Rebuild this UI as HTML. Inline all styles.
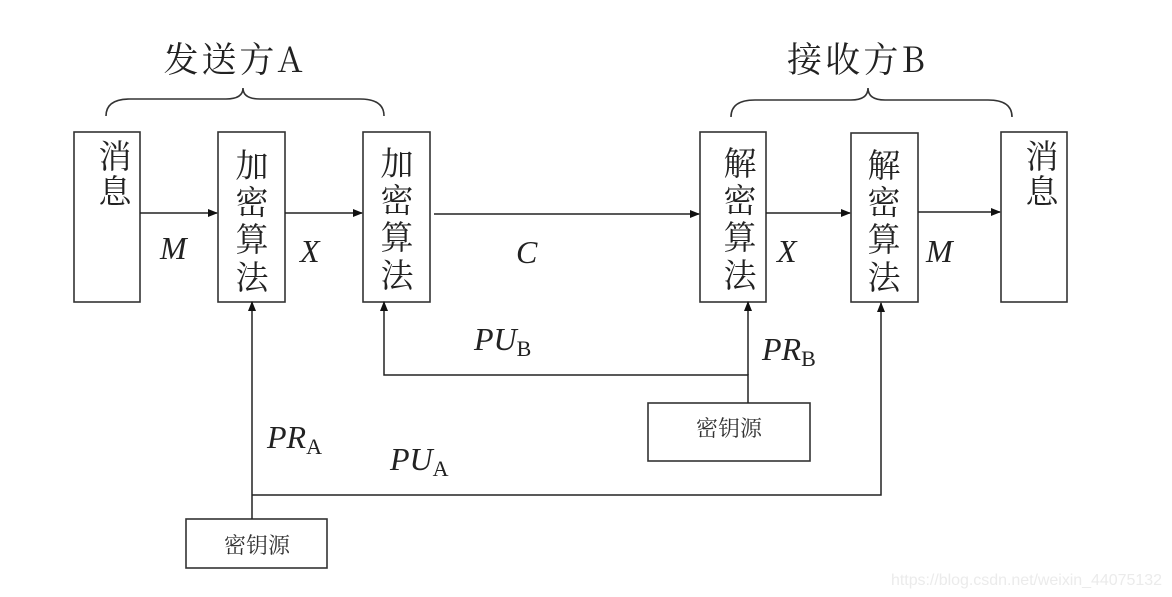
<!DOCTYPE html>
<html><head><meta charset="utf-8"><style>
html,body{margin:0;padding:0;background:#fff;width:1172px;height:597px;overflow:hidden}
svg text{font-family:"Liberation Serif","Noto Serif CJK SC",serif;fill:#222}
.cj{font-family:"Noto Serif CJK SC","Liberation Serif",serif;font-size:33px}
.it{font-style:italic;font-size:32px}
.sub{font-size:22px;font-style:normal}
</style></head><body>
<svg width="1172" height="597" viewBox="0 0 1172 597" xmlns="http://www.w3.org/2000/svg">
<defs><marker id="a" markerWidth="10" markerHeight="8" refX="9" refY="4" orient="auto" markerUnits="userSpaceOnUse"><path d="M0,0 L10,4 L0,8z" fill="#111"/></marker></defs>
<g fill="none" stroke="#333" stroke-width="1.6">
<rect x="74" y="132" width="66" height="170"/>
<rect x="218" y="132" width="67" height="170"/>
<rect x="363" y="132" width="67" height="170"/>
<rect x="700" y="132" width="66" height="170"/>
<rect x="851" y="133" width="67" height="169"/>
<rect x="1001" y="132" width="66" height="170"/>
<rect x="648" y="403" width="162" height="58"/>
<rect x="186" y="519" width="141" height="49"/>
<path d="M106,116 Q106,99 130,99 L226,99 Q243,99 243,88 Q243,99 260,99 L360,99 Q384,99 384,116"/>
<path d="M731,117 Q731,100 755,100 L851,100 Q868,100 868,88 Q868,100 885,100 L988,100 Q1012,100 1012,117"/>
</g>
<g stroke="#222" stroke-width="1.5" marker-end="url(#a)" fill="none">
<line x1="140" y1="213" x2="217" y2="213"/>
<line x1="285" y1="213" x2="362" y2="213"/>
<line x1="434" y1="214" x2="699" y2="214"/>
<line x1="766" y1="213" x2="850" y2="213"/>
<line x1="918" y1="212" x2="1000" y2="212"/>
<line x1="252" y1="519" x2="252" y2="302"/>
<polyline points="748,403 748,375 384,375 384,302"/>
<line x1="748" y1="375" x2="748" y2="302"/>
<polyline points="252,495 881,495 881,303"/>
</g>
<g class="cj" text-anchor="middle">
<text x="115" y="168">消</text><text x="115" y="203">息</text>
<text x="252" y="177">加</text><text x="252" y="214">密</text><text x="252" y="251">算</text><text x="252" y="289">法</text>
<text x="397" y="175">加</text><text x="397" y="212">密</text><text x="397" y="249">算</text><text x="397" y="287">法</text>
<text x="740" y="175">解</text><text x="740" y="212">密</text><text x="740" y="249">算</text><text x="740" y="287">法</text>
<text x="884" y="177">解</text><text x="884" y="214">密</text><text x="884" y="251">算</text><text x="884" y="289">法</text>
<text x="1042" y="168">消</text><text x="1042" y="203">息</text>
</g>
<text x="233" y="72" text-anchor="middle" textLength="139" style="font-family:'Noto Serif CJK SC',serif;font-size:35px">发送方A</text>
<text x="856" y="72" text-anchor="middle" textLength="138" style="font-family:'Noto Serif CJK SC',serif;font-size:35px">接收方B</text>
<text x="729" y="436" text-anchor="middle" style="font-family:'Noto Serif CJK SC',serif;font-size:22px;fill:#333">密钥源</text>
<text x="257" y="553" text-anchor="middle" style="font-family:'Noto Serif CJK SC',serif;font-size:22px;fill:#333">密钥源</text>
<text class="it" x="160" y="259">M</text>
<text class="it" x="300" y="262">X</text>
<text class="it" x="516" y="263">C</text>
<text class="it" x="777" y="262">X</text>
<text class="it" x="926" y="262">M</text>
<text class="it" x="474" y="350">PU<tspan class="sub" dy="6">B</tspan></text>
<text class="it" x="762" y="360">PR<tspan class="sub" dy="6">B</tspan></text>
<text class="it" x="267" y="448">PR<tspan class="sub" dy="6">A</tspan></text>
<text class="it" x="390" y="470">PU<tspan class="sub" dy="6">A</tspan></text>
<text x="891" y="585" textLength="271" style="font-family:'Liberation Sans',sans-serif;font-size:16px;fill:#ebebeb">https://blog.csdn.net/weixin_44075132</text>
</svg>
</body></html>
